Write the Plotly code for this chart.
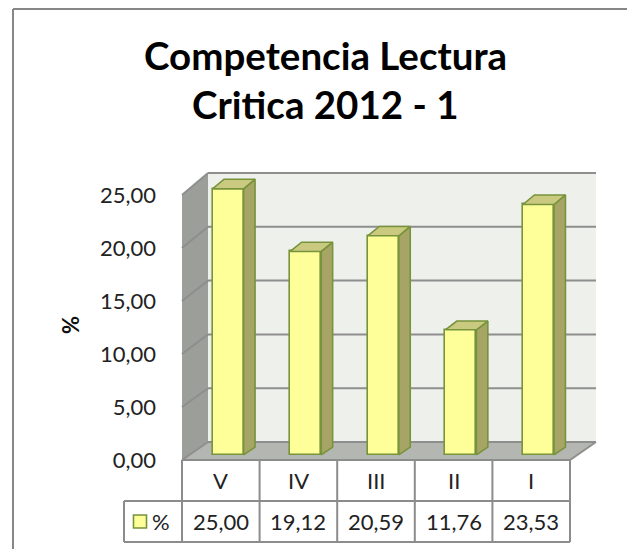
import plotly.graph_objects as go

# datos
categorias = ["V", "IV", "III", "II", "I"]
porcentajes = [25.00, 19.12, 20.59, 11.76, 23.53]
ticks_y = [0, 5, 10, 15, 20, 25]
serie = "%"
titulo = ["Competencia Lectura", "Critica 2012 - 1"]

# the page puts the figure 8px in from the window corner
OFF = 8
W, H = 635 - 2 * OFF, 557 - 2 * OFF
L, R, T, B = 110, 592, 157, 538          # plot area, figure pixels
X0_PX, CAT_PX = 182 - OFF, 77.6          # front floor left edge, px per category
Y0_PX, UNIT_PX = 460 - OFF, 10.6         # front floor line, px per unit
DX, DY, K = 26 / CAT_PX, 18 / UNIT_PX, 0.015
ROW_H = 41 / UNIT_PX
F0, F1, HALF = 0.28, 0.72, 0.2
YMAX = ticks_y[-1]

AMARILLO, VERDE = "#FFFF99", "#77933C"
TOPE, LADO = "#C9C980", "#A6A566"
GRIS = "#8E8E8E"
FONT = "Lato"
TXT = dict(family=FONT, size=22, color="#222")


def proj(x, y, f):
    return x + f * DX, y * (1 + K * f) + f * DY


def path(pts):
    return "M " + " L ".join(f"{x},{y}" for x, y in pts) + " Z"


def paper_x(px):
    return (px - OFF - L) / (R - L)


def paper_y(py):
    return (B - (py - OFF)) / (B - T)


x_lo = -0.5 + (L - X0_PX) / CAT_PX
x_hi = -0.5 + (R - X0_PX) / CAT_PX
y_lo = (Y0_PX - B) / UNIT_PX
y_hi = (Y0_PX - T) / UNIT_PX
n = len(categorias)
xl, xr = -0.5, n - 0.5

shapes = []
# paredes y piso
pared_fondo = [proj(xl, 0, 1), proj(xr, 0, 1), proj(xr, YMAX, 1), proj(xl, YMAX, 1)]
pared_lado = [proj(xl, 0, 0), proj(xl, 0, 1), proj(xl, YMAX, 1), proj(xl, YMAX, 0)]
piso = [proj(xl, 0, 0), proj(xr, 0, 0), proj(xr, 0, 1), proj(xl, 0, 1)]
for pts, col in [(pared_fondo, "#EEF0EB"), (pared_lado, "#9C9E99"), (piso, "#B4B7B1")]:
    shapes.append(dict(type="path", path=path(pts), xref="x", yref="y",
                       fillcolor=col, line=dict(width=0), layer="below"))
# lineas de division
for v in ticks_y:
    a, b = proj(xl, v, 1), proj(xr, v, 1)
    c = proj(xl, v, 0)
    shapes.append(dict(type="line", xref="x", yref="y", x0=c[0], y0=c[1], x1=a[0], y1=a[1],
                       line=dict(color=GRIS, width=2), layer="below"))
    shapes.append(dict(type="line", xref="x", yref="y", x0=a[0], y0=a[1], x1=b[0], y1=b[1],
                       line=dict(color=GRIS, width=2), layer="below"))
a, b = proj(xr, 0, 0), proj(xr, 0, 1)
shapes.append(dict(type="line", xref="x", yref="y", x0=a[0], y0=a[1], x1=b[0], y1=b[1],
                   line=dict(color=GRIS, width=2), layer="below"))

# tabla de datos
x_leg = xl - 58 / CAT_PX
tabla = dict(color="#8C8C8C", width=2)
shapes.append(dict(type="line", xref="x", yref="y", x0=xl, x1=xr, y0=0, y1=0, line=tabla))
shapes.append(dict(type="line", xref="x", yref="y", x0=x_leg, x1=xr, y0=-ROW_H, y1=-ROW_H, line=tabla))
shapes.append(dict(type="line", xref="x", yref="y", x0=x_leg, x1=xr, y0=-2 * ROW_H, y1=-2 * ROW_H, line=tabla))
shapes.append(dict(type="line", xref="x", yref="y", x0=x_leg, x1=x_leg, y0=-ROW_H, y1=-2 * ROW_H, line=tabla))
for j in range(n + 1):
    shapes.append(dict(type="line", xref="x", yref="y", x0=xl + j, x1=xl + j, y0=0, y1=-2 * ROW_H, line=tabla))

# borde del grafico
borde = dict(color="#878787", width=2)
shapes.append(dict(type="line", xref="paper", yref="paper", x0=paper_x(13), x1=paper_x(13),
                   y0=paper_y(OFF + 1), y1=paper_y(H + 20), line=borde))
shapes.append(dict(type="line", xref="paper", yref="paper", x0=paper_x(13), x1=paper_x(W + 20),
                   y0=paper_y(OFF + 1), y1=paper_y(OFF + 1), line=borde))

fig = go.Figure()

# caras frontales de las barras
fig.add_trace(go.Bar(
    x=[i + F0 * DX for i in range(n)],
    y=[v * (1 + K * F0) for v in porcentajes],
    base=[F0 * DY] * n,
    width=2 * HALF,
    marker=dict(color=AMARILLO, line=dict(color=VERDE, width=1.6)),
    showlegend=False, hoverinfo="skip",
))

# caras laterales y superiores
lx, ly, tx, ty = [], [], [], []
for i, v in enumerate(porcentajes):
    side = [proj(i + HALF, 0, F0), proj(i + HALF, 0, F1), proj(i + HALF, v, F1), proj(i + HALF, v, F0), proj(i + HALF, 0, F0)]
    top = [proj(i - HALF, v, F0), proj(i + HALF, v, F0), proj(i + HALF, v, F1), proj(i - HALF, v, F1), proj(i - HALF, v, F0)]
    lx += [p[0] for p in side] + [None]
    ly += [p[1] for p in side] + [None]
    tx += [p[0] for p in top] + [None]
    ty += [p[1] for p in top] + [None]
fig.add_trace(go.Scatter(x=lx, y=ly, mode="lines", fill="toself", fillcolor=LADO,
                         line=dict(color=VERDE, width=1.6), showlegend=False, hoverinfo="skip"))
fig.add_trace(go.Scatter(x=tx, y=ty, mode="lines", fill="toself", fillcolor=TOPE,
                         line=dict(color=VERDE, width=1.6), showlegend=False, hoverinfo="skip"))

# clave de leyenda en la tabla
fig.add_trace(go.Scatter(
    x=[xl - 42 / CAT_PX], y=[-1.5 * ROW_H], mode="markers",
    marker=dict(symbol="square", size=13, color=AMARILLO, line=dict(color=VERDE, width=1.6)),
    showlegend=False, hoverinfo="skip",
))

annotations = []
for i, (c, v) in enumerate(zip(categorias, porcentajes)):
    annotations.append(dict(x=i, y=-0.5 * ROW_H, xref="x", yref="y", text=c,
                            showarrow=False, font=TXT))
    annotations.append(dict(x=i, y=-1.5 * ROW_H, xref="x", yref="y",
                            text=f"{v:.2f}".replace(".", ","), showarrow=False, font=TXT))
annotations.append(dict(x=xl - 21 / CAT_PX, y=-1.5 * ROW_H, xref="x", yref="y", text=serie,
                        showarrow=False, font=TXT))
annotations.append(dict(x=paper_x(70), y=paper_y(325), xref="paper", yref="paper", text="<b>%</b>",
                        xanchor="center", yanchor="middle", textangle=-90, showarrow=False,
                        font=dict(family=FONT, size=22, color="#111")))
# titulo en dos lineas
for linea, py in zip(titulo, [55, 104]):
    annotations.append(dict(x=paper_x(325), y=paper_y(py), xref="paper", yref="paper",
                            text=f"<b>{linea}</b>", xanchor="center", yanchor="middle",
                            showarrow=False, font=dict(family=FONT, size=38.5, color="#000")))

fig.update_layout(
    width=W, height=H,
    margin=dict(l=L, r=W - R, t=T, b=H - B),
    paper_bgcolor="white", plot_bgcolor="white",
    separators=",.",
    xaxis=dict(range=[x_lo, x_hi], visible=False, fixedrange=True),
    yaxis=dict(range=[y_lo, y_hi], anchor="free", position=(X0_PX - L) / (R - L),
               tickvals=ticks_y, tickformat=".2f", ticks="", ticklabelstandoff=26,
               showgrid=False, zeroline=False, showline=False, fixedrange=True,
               tickfont=TXT),
    shapes=shapes,
    annotations=annotations,
    bargap=0,
)

fig.write_html("out.html")
